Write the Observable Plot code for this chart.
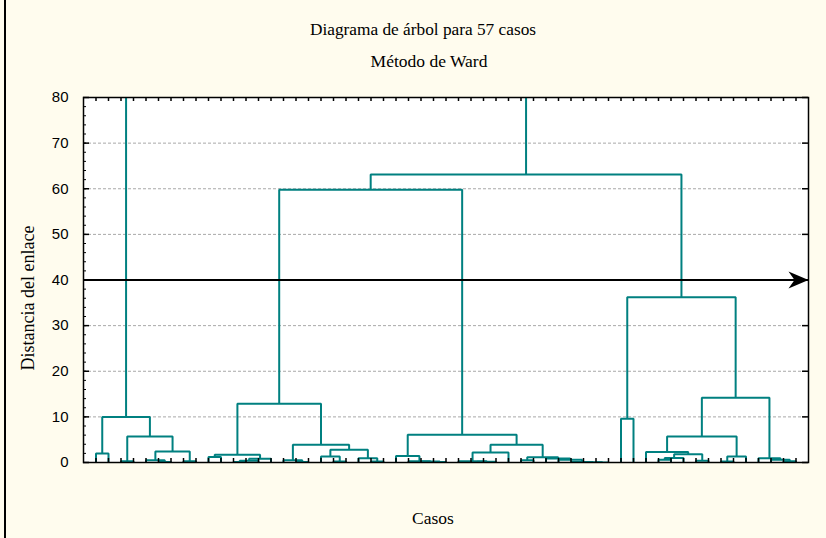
<!DOCTYPE html>
<html><head><meta charset="utf-8">
<script src="https://cdn.jsdelivr.net/npm/d3@7"></script>
<script src="https://cdn.jsdelivr.net/npm/@observablehq/plot@0.6"></script>
<style>
html,body{margin:0;padding:0;background:#fffcee;}
#wrap{position:relative;width:826px;height:538px;overflow:hidden;}
#edge{position:absolute;left:4px;top:0;width:2px;height:538px;background:#000;}
svg{display:block;}
</style></head><body><div id="wrap"><div id="edge"></div></div>
<script>
// ---- data ----
const titleText = "Diagrama de árbol para 57 casos";
const subtitleText = "Método de Ward";
const xLabel = "Casos";
const yLabel = "Distancia del enlace";
const caseCount = 57;
const yTicks = [0, 10, 20, 30, 40, 50, 60, 70, 80];
const gridValues = [10, 20, 30, 40, 50, 60, 70];
const cutoff = 40;
// merges: [name, left, right, linkage distance]; numbers are cases in dendrogram order
const merges = [
  ["a1", 1, 2, 2.0],
  ["a2", 3, 4, 0.3],
  ["a3", 6, 7, 0.1],
  ["a4", 5, "a3", 0.5],
  ["a5", 8, 9, 0.3],
  ["a6", "a4", "a5", 2.4],
  ["a7", "a2", "a6", 5.7],
  ["A", "a1", "a7", 10.0],
  ["b1", 10, 11, 1.2],
  ["b2", 12, 13, 0.1],
  ["b3", "b2", 14, 0.4],
  ["b4", "b3", 15, 0.8],
  ["b5", "b1", "b4", 1.7],
  ["b6", 17, 18, 0.1],
  ["b7", 16, "b6", 0.5],
  ["b8", 20, 21, 0.2],
  ["b9", 19, "b8", 1.3],
  ["b10", 23, 24, 0.2],
  ["b11", 22, "b10", 0.95],
  ["b12", "b9", "b11", 2.8],
  ["b13", "b7", "b12", 3.9],
  ["B", "b5", "b13", 12.9],
  ["c1", 28, 29, 0.1],
  ["c2", 27, "c1", 0.2],
  ["c3", 26, "c2", 0.3],
  ["c4", 25, "c3", 1.4],
  ["c5", 31, 32, 0.05],
  ["c6", "c5", 33, 0.15],
  ["c7", 30, "c6", 0.3],
  ["c8", "c7", 34, 2.2],
  ["c9", 35, 36, 0.5],
  ["c10", 41, 42, 0.02],
  ["c11", 40, "c10", 0.05],
  ["c12", 39, "c11", 0.1],
  ["c13", 38, "c12", 0.6],
  ["c14", 37, "c13", 0.9],
  ["c15", "c9", "c14", 1.15],
  ["c16", "c8", "c15", 3.9],
  ["C", "c4", "c16", 6.1],
  ["BC", "B", "C", 59.8],
  ["d1", 43, 44, 9.6],
  ["d2", 46, 47, 0.6],
  ["d3", "d2", 48, 1.0],
  ["d4", 49, 50, 0.4],
  ["d5", "d3", "d4", 1.8],
  ["d6", 45, "d5", 2.3],
  ["d7", 51, 52, 0.2],
  ["d8", "d7", 53, 1.3],
  ["d9", "d6", "d8", 5.7],
  ["d10", 56, 57, 0.3],
  ["d11", 55, "d10", 0.6],
  ["d12", 54, "d11", 0.95],
  ["d13", "d9", "d12", 14.2],
  ["D", "d1", "d13", 36.2],
  ["BCD", "BC", "D", 63.1],
  ["root", "A", "BCD", 105]
];

// ---- layout ----
const W = 826, H = 538, mL = 83, mR = 18, mT = 97, mB = 76;
const innerW = W - mL - mR, innerH = H - mT - mB;
const cases = d3.range(1, caseCount + 1);
const yMinor = d3.range(0, 81, 2);

const pos = new Map();
const node = k => typeof k === "number" ? {x: k, y: 0} : pos.get(k);
const paths = [];
for (const [name, l, r, h] of merges) {
  const L = node(l), R = node(r);
  pos.set(name, {x: (L.x + R.x) / 2, y: h});
  paths.push({name, x: L.x, y: L.y}, {name, x: L.x, y: h}, {name, x: R.x, y: h}, {name, x: R.x, y: R.y});
}

const dart = {draw(ctx) { ctx.moveTo(0, 0); ctx.lineTo(-20, -8.5); ctx.lineTo(-14, 0); ctx.lineTo(-20, 8.5); ctx.closePath(); }};
const serif = "Liberation Serif, Times New Roman, serif";
const sans = "Liberation Sans, Arial, sans-serif";

const plot = Plot.plot({
  width: W, height: H,
  marginLeft: mL, marginRight: mR, marginTop: mT, marginBottom: mB,
  style: {background: "transparent", overflow: "visible"},
  x: {domain: [0, caseCount + 1], axis: null},
  y: {domain: [0, 80], axis: null},
  marks: [
    Plot.frame({fill: "white", stroke: null}),
    Plot.gridY(gridValues, {stroke: "#a8a8a8", strokeOpacity: 1, strokeDasharray: "3,2", strokeWidth: 1}),
    Plot.line(paths, {x: "x", y: "y", z: "name", stroke: "#008080", strokeWidth: 2, clip: true,
      strokeLinejoin: "miter", strokeLinecap: "butt"}),
    Plot.ruleY([cutoff], {stroke: "black", strokeWidth: 2}),
    Plot.dot([cutoff], {x: () => caseCount + 1, y: d => d, symbol: dart, fill: "black", stroke: null}),
    Plot.ruleY(yTicks, {insetRight: innerW - 6, stroke: "black", strokeWidth: 1.5}),
    Plot.ruleY(yMinor, {insetRight: innerW - 3, stroke: "black", strokeWidth: 1}),
    Plot.ruleY(yTicks, {insetLeft: innerW - 6, stroke: "black", strokeWidth: 1.5}),
    Plot.ruleX(cases, {insetTop: innerH - 4, stroke: "black", strokeWidth: 1.5}),
    Plot.ruleX(cases, {insetBottom: innerH - 4, stroke: "black", strokeWidth: 1.5}),
    Plot.frame({stroke: "black", strokeWidth: 1.5}),
    Plot.axisY(yTicks, {anchor: "left", tickSize: 0, tickPadding: 15, fontSize: 15, fontFamily: sans, label: null, fill: "black"}),
    Plot.text([titleText], {frameAnchor: "top", dx: -23, dy: -68, fontSize: 17.3, fontFamily: serif, textAnchor: "middle", lineAnchor: "middle", fill: "black"}),
    Plot.text([subtitleText], {frameAnchor: "top", dx: -17, dy: -36, fontSize: 17.5, fontFamily: serif, textAnchor: "middle", lineAnchor: "middle", fill: "black"}),
    Plot.text([xLabel], {frameAnchor: "bottom", dx: -13, dy: 56, fontSize: 17.5, fontFamily: serif, textAnchor: "middle", lineAnchor: "middle", fill: "black"}),
    Plot.text([yLabel], {frameAnchor: "left", dx: -55, dy: 18, rotate: -90, fontSize: 18, fontFamily: serif, textAnchor: "middle", lineAnchor: "middle", fill: "black"})
  ]
});
document.getElementById("wrap").appendChild(plot);
</script></body></html>
